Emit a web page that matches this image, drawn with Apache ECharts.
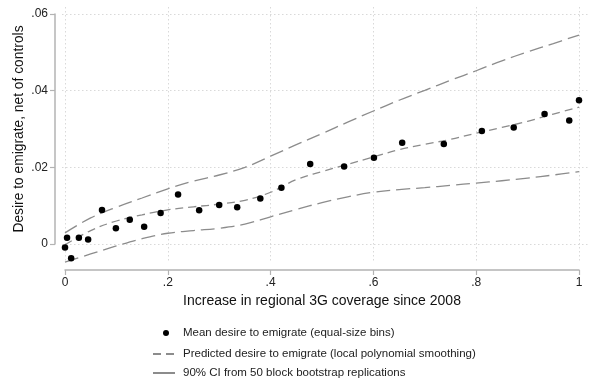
<!DOCTYPE html>
<html>
<head>
<meta charset="utf-8">
<script src="https://cdn.jsdelivr.net/npm/echarts@6/dist/echarts.min.js"></script>
<style>html,body{margin:0;padding:0;background:#fff}#c{width:600px;height:386px}</style>
</head>
<body>
<div id="c"></div>
<script>
// Binned scatter: [coverage increase, mean desire to emigrate]
const binX = [0.000, 0.004, 0.012, 0.027, 0.045, 0.072, 0.099, 0.126, 0.154, 0.186, 0.220, 0.261, 0.300, 0.335, 0.380, 0.421, 0.477, 0.543, 0.601, 0.656, 0.737, 0.811, 0.873, 0.933, 0.981, 1.000];
const binY = [-0.0009, 0.0016, -0.0037, 0.0016, 0.0012, 0.0089, 0.0041, 0.0063, 0.0045, 0.0081, 0.0129, 0.0088, 0.0102, 0.0096, 0.0119, 0.0147, 0.0209, 0.0202, 0.0225, 0.0264, 0.0261, 0.0295, 0.0304, 0.0339, 0.0322, 0.0375];
// Smoothed curves read at fixed x positions
const curveX = [0, 0.05, 0.1, 0.15, 0.2, 0.25, 0.3, 0.35, 0.4, 0.45, 0.5, 0.55, 0.6, 0.65, 0.7, 0.75, 0.8, 0.85, 0.9, 0.95, 1];
const predY  = [-0.0002, 0.0035, 0.0060, 0.0076, 0.0089, 0.0097, 0.0104, 0.0114, 0.0135, 0.0168, 0.0189, 0.0208, 0.0227, 0.0246, 0.0260, 0.0273, 0.0289, 0.0304, 0.0320, 0.0339, 0.0357];
const upperY = [0.0029, 0.0068, 0.0096, 0.0120, 0.0144, 0.0164, 0.0180, 0.0200, 0.0229, 0.0259, 0.0288, 0.0318, 0.0347, 0.0375, 0.0401, 0.0427, 0.0452, 0.0478, 0.0501, 0.0523, 0.0545];
const lowerY = [-0.0047, -0.0026, -0.0005, 0.0014, 0.0028, 0.0035, 0.0041, 0.0052, 0.0071, 0.0090, 0.0108, 0.0123, 0.0135, 0.0142, 0.0147, 0.0153, 0.0159, 0.0165, 0.0172, 0.0180, 0.0189];
const xTicks = [0, 0.2, 0.4, 0.6, 0.8, 1];
const yTicks = [0, 0.02, 0.04, 0.06];
const xTitle = 'Increase in regional 3G coverage since 2008';
const yTitle = 'Desire to emigrate, net of controls';
const names = ['Mean desire to emigrate (equal-size bins)', 'Predicted desire to emigrate (local polynomial smoothing)', '90% CI from 50 block bootstrap replications'];

const zip = (xs, ys) => xs.map((x, i) => [x, ys[i]]);
const fmt = v => { const r = Math.round(v * 1000) / 1000; return r === 0 ? '0' : String(r).replace(/^0\./, '.').replace(/^-0\./, '-.'); };
const FONT = 'Liberation Sans, Arial, sans-serif';
const GRID_COL = '#d9d9d9';
const AXIS_COL = '#b3b3b3';
const LINE_COL = '#8c8c8c';
const xStep = xTicks[1] - xTicks[0];
const yStep = yTicks[1] - yTicks[0];
const hidden = {axisLine:{show:false}, axisTick:{show:false}, axisLabel:{show:false}, splitLine:{show:false}};
const legText = {fontFamily:FONT, fontSize:11.5, color:'#222'};

const chart = echarts.init(document.getElementById('c'), null, {renderer: 'canvas'});
chart.setOption({
  animation: false,
  backgroundColor: '#fff',
  grid: [
    {left: 65, top: 14, width: 514, height: 230},   // data
    {left: 65, top: 7, width: 514, height: 255},    // vertical grid lines
    {left: 62, top: 14, width: 526, height: 230},   // horizontal grid lines
    {left: 65, top: 269, width: 514, height: 1},    // x axis
    {left: 55, top: 14, width: 1, height: 230}      // y axis
  ],
  xAxis: [
    Object.assign({type:'value', gridIndex:0, min:xTicks[0], max:xTicks[xTicks.length-1]}, hidden),
    Object.assign({type:'value', gridIndex:1, min:xTicks[0], max:xTicks[xTicks.length-1], interval:xStep}, hidden,
      {splitLine:{show:true, lineStyle:{color:GRID_COL, type:[1.5,2.5], width:1}}}),
    Object.assign({type:'value', gridIndex:2, min:0, max:1}, hidden),
    {type:'value', gridIndex:3, min:xTicks[0], max:xTicks[xTicks.length-1], interval:xStep, position:'bottom',
      axisLine:{show:true, lineStyle:{color:AXIS_COL, width:1.5}},
      axisTick:{show:true, length:5, lineStyle:{color:AXIS_COL, width:1.2}},
      axisLabel:{show:true, formatter:fmt, color:'#222', fontFamily:FONT, fontSize:12, margin:7},
      splitLine:{show:false},
      name:xTitle, nameLocation:'middle', nameGap:24,
      nameTextStyle:{color:'#111', fontFamily:FONT, fontSize:14}},
    Object.assign({type:'value', gridIndex:4, min:0, max:1}, hidden)
  ],
  yAxis: [
    Object.assign({type:'value', gridIndex:0, min:yTicks[0], max:yTicks[yTicks.length-1]}, hidden),
    Object.assign({type:'value', gridIndex:1, min:0, max:1}, hidden),
    Object.assign({type:'value', gridIndex:2, min:yTicks[0], max:yTicks[yTicks.length-1], interval:yStep}, hidden,
      {splitLine:{show:true, lineStyle:{color:GRID_COL, type:[1.5,2.5], width:1}}}),
    Object.assign({type:'value', gridIndex:3, min:0, max:1}, hidden),
    {type:'value', gridIndex:4, min:yTicks[0], max:yTicks[yTicks.length-1], interval:yStep, position:'left',
      axisLine:{show:true, lineStyle:{color:AXIS_COL, width:1.5}},
      axisTick:{show:true, length:5, lineStyle:{color:AXIS_COL, width:1.2}},
      axisLabel:{show:true, formatter:fmt, color:'#222', fontFamily:FONT, fontSize:12, margin:7},
      splitLine:{show:false},
      name:yTitle, nameLocation:'middle', nameGap:29, nameRotate:90,
      nameTextStyle:{color:'#111', fontFamily:FONT, fontSize:13.8}}
  ],
  legend: [
    {data:[names[0]], orient:'vertical', left:163, top:327, padding:0, itemWidth:6, itemHeight:6, selectedMode:false,
      textStyle:Object.assign({padding:[0,0,0,9]}, legText)},
    {data:[names[1]], orient:'vertical', left:152, top:348, padding:0, itemWidth:22, itemHeight:10, selectedMode:false,
      itemStyle:{opacity:0, borderWidth:0},
      textStyle:Object.assign({padding:[0,0,0,3]}, legText)},
    {data:[names[2]], orient:'vertical', left:152, top:367, padding:0, itemWidth:22, itemHeight:10, selectedMode:false,
      itemStyle:{opacity:0, borderWidth:0},
      lineStyle:{type:'solid'},
      textStyle:Object.assign({padding:[0,0,0,3]}, legText)}
  ],
  series: [
    {name:names[2], type:'line', xAxisIndex:0, yAxisIndex:0, data:zip(curveX, upperY), smooth:0.4, symbol:'none', clip:false,
      lineStyle:{color:LINE_COL, width:1.3, type:[14,6]}, itemStyle:{color:LINE_COL}, z:2},
    {name:names[2], type:'line', xAxisIndex:0, yAxisIndex:0, data:zip(curveX, lowerY), smooth:0.4, symbol:'none', clip:false,
      lineStyle:{color:LINE_COL, width:1.3, type:[14,6]}, itemStyle:{color:LINE_COL}, z:2},
    {name:names[1], type:'line', xAxisIndex:0, yAxisIndex:0, data:zip(curveX, predY), smooth:0.4, symbol:'none', clip:false,
      lineStyle:{color:LINE_COL, width:1.3, type:[8,5]}, itemStyle:{color:LINE_COL}, z:3},
    {name:names[0], type:'scatter', xAxisIndex:0, yAxisIndex:0, data:zip(binX, binY), symbol:'circle', symbolSize:6.5, clip:false,
      itemStyle:{color:'#000', opacity:1}, z:4}
  ]
});
</script>
</body>
</html>
